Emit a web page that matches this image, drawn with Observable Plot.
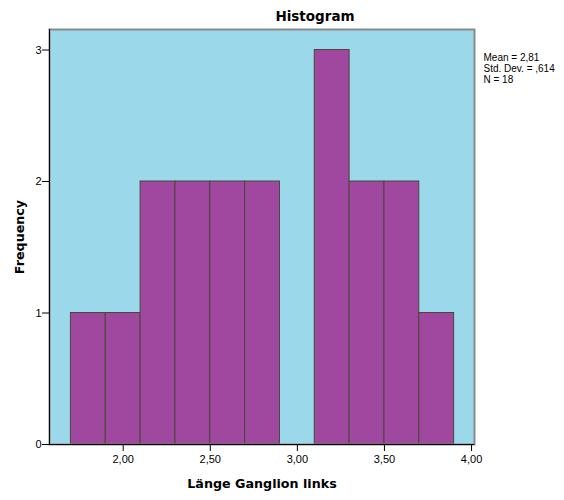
<!DOCTYPE html>
<html><head><meta charset="utf-8">
<script src="https://cdn.jsdelivr.net/npm/d3@7"></script>
<script src="https://cdn.jsdelivr.net/npm/@observablehq/plot@0.6"></script>
<style>body{margin:0;background:#fff}</style>
</head><body><div id="chart"></div>
<script>
const binLower = [1.7, 1.9, 2.1, 2.3, 2.5, 2.7, 2.9, 3.1, 3.3, 3.5, 3.7];
const binUpper = [1.9, 2.1, 2.3, 2.5, 2.7, 2.9, 3.1, 3.3, 3.5, 3.7, 3.9];
const counts   = [1, 1, 2, 2, 2, 2, 0, 3, 2, 2, 1];
const xTicks = [2, 2.5, 3, 3.5, 4];
const yTicks = [0, 1, 2, 3];
const statLines = ["Mean = 2,81", "Std. Dev. = ,614", "N = 18"];
const titleText = "Histogram";
const xLabel = "Länge Ganglion links";
const yLabel = "Frequency";
const xDomain = [1.577, 4.017];
const yDomain = [0, 3.156];

const bins = counts.map((c, i) => ({x1: binLower[i], x2: binUpper[i], count: c})).filter(d => d.count > 0);
const fmt = d => d3.format(".2f")(d).replace(".", ",");
const bold = "'DejaVu Sans', sans-serif";

const chart = Plot.plot({
  width: 564, height: 500,
  marginLeft: 49, marginRight: 90, marginTop: 29, marginBottom: 56,
  style: {fontFamily: "'Liberation Sans', Arial, sans-serif", fontSize: "11px", background: "#fff", color: "#000"},
  x: {domain: xDomain},
  y: {domain: yDomain},
  marks: [
    Plot.frame({fill: "#9ad8ea"}),
    Plot.rectY(bins, {x1: "x1", x2: "x2", y: "count", fill: "#a0489f", stroke: "#4a4638", strokeWidth: 1}),
    Plot.frame({stroke: "#8a8a8a", strokeWidth: 2}),
    Plot.ruleY([yDomain[0]], {stroke: "#000"}),
    Plot.ruleX([xDomain[0]], {stroke: "#000"}),
    Plot.axisX({ticks: xTicks, tickFormat: fmt, tickSize: 7, tickPadding: 4, label: null, fontSize: 11}),
    Plot.axisY({ticks: yTicks, tickFormat: d => String(d), tickSize: 7, tickPadding: 1, label: null, fontSize: 11}),
    Plot.text([titleText], {text: d => d, frameAnchor: "top", dx: 53, dy: -8.3, lineAnchor: "bottom", fontSize: 13.5, fontWeight: "bold", fontFamily: bold}),
    Plot.text([xLabel], {text: d => d, frameAnchor: "bottom", dy: 43, lineAnchor: "bottom", fontSize: 12.7, fontWeight: "bold", fontFamily: bold}),
    Plot.text([yLabel], {text: d => d, frameAnchor: "left", dx: -26, rotate: -90, textAnchor: "middle", lineAnchor: "bottom", fontSize: 12.7, fontWeight: "bold", fontFamily: bold}),
    Plot.text([statLines.join("\n")], {text: d => d, frameAnchor: "top-right", textAnchor: "start", lineAnchor: "top", dx: 9, dy: 23.9, lineHeight: 1.1, fontSize: 10, fontFamily: "'Liberation Sans Narrow', 'Arial Narrow', 'Liberation Sans', sans-serif"})
  ]
});
document.getElementById("chart").appendChild(chart);
</script>
</body></html>
